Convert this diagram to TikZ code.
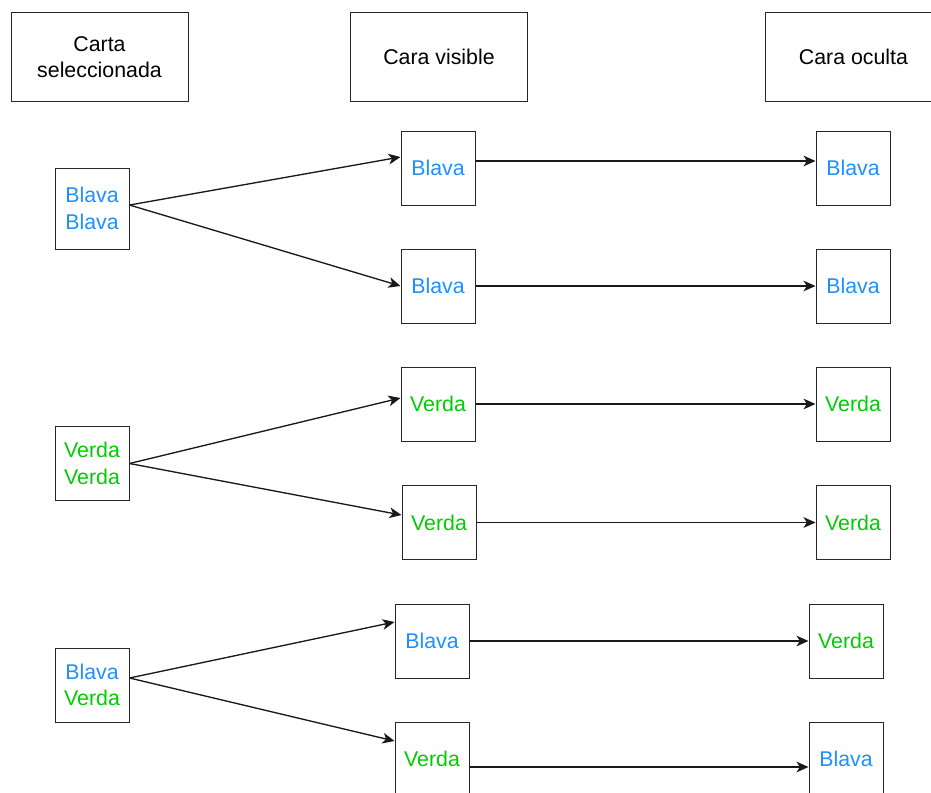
\documentclass[tikz,border=0pt]{standalone}
\usepackage{fontspec}
\setmainfont{Liberation Sans}
\usetikzlibrary{arrows.meta}
\definecolor{blava}{RGB}{30,144,255}
\definecolor{verda}{RGB}{0,204,0}
\tikzset{
  titol/.style={draw=black!85, line width=0.75pt, minimum width=132.75pt, minimum height=66pt, inner sep=0pt, align=center, font=\fontsize{16}{20}\selectfont},
  carta/.style={draw=black!85, line width=0.75pt, minimum width=55.5pt, minimum height=55.5pt, inner sep=0pt, align=center, font=\fontsize{16}{20}\selectfont},
  fletxa/.style={draw=black!90, line width=1pt, -{Stealth[length=9pt, width=8pt, inset=2.5pt]}}
}
\begin{document}
\begin{tikzpicture}[x=0.75pt,y=0.75pt,yscale=-1,xscale=1]
\useasboundingbox (0,0) rectangle (931,792);
\clip (0,0) rectangle (931,792);

% Capcaleres
\node [titol] (hsel) at (99.5,57) {Carta\\seleccionada};
\node [titol] (hvis) at (439,57) {Cara visible};
\node [titol] (hocu) at (853.5,57) {Cara oculta};

% Carta seleccionada
\node [carta, minimum height=60.75pt] (sel1) at (92,208.5) {\color{blava}Blava\\\color{blava}Blava};
\node [carta] (sel2) at (92,463.5) {\color{verda}Verda\\\color{verda}Verda};
\node [carta] (sel3) at (92,685) {\color{blava}Blava\\\color{verda}Verda};

% Cara visible
\node [carta, text=blava] (vis1) at (438,168) {Blava};
\node [carta, text=blava] (vis2) at (438,286) {Blava};
\node [carta, text=verda] (vis3) at (438,404) {Verda};
\node [carta, text=verda] (vis4) at (439,522.5) {Verda};
\node [carta, text=blava] (vis5) at (432,641) {Blava};
\node [carta, text=verda] (vis6) at (432,759) {Verda};

% Cara oculta
\node [carta, text=blava] (ocu1) at (853,168) {Blava};
\node [carta, text=blava] (ocu2) at (853,286) {Blava};
\node [carta, text=verda] (ocu3) at (853,404) {Verda};
\node [carta, text=verda] (ocu4) at (853,522.5) {Verda};
\node [carta, text=verda] (ocu5) at (846,641) {Verda};
\node [carta, text=blava] (ocu6) at (846,759) {Blava};

% Fletxes
\draw [fletxa] ([yshift=-2.6pt]sel1.east) -- ([yshift=-8.25pt]vis1.west);
\draw [fletxa] ([yshift=-2.6pt]sel1.east) -- (vis2.west);
\draw [fletxa] (sel2.east) -- ([yshift=-4.5pt]vis3.west);
\draw [fletxa] (sel2.east) -- ([yshift=-5.6pt]vis4.west);
\draw [fletxa] ([yshift=-5.25pt]sel3.east) -- ([yshift=-14.25pt]vis5.west);
\draw [fletxa] ([yshift=-5.25pt]sel3.east) -- ([yshift=-13.5pt]vis6.west);

\draw [fletxa] ([yshift=-5.25pt]vis1.east) -- ([yshift=-5.25pt]ocu1.west);
\draw [fletxa] (vis2.east) -- (ocu2.west);
\draw [fletxa] (vis3.east) -- (ocu3.west);
\draw [fletxa] (vis4.east) -- (ocu4.west);
\draw [fletxa] (vis5.east) -- (ocu5.west);
\draw [fletxa] ([yshift=6pt]vis6.east) -- ([yshift=6pt]ocu6.west);

\end{tikzpicture}
\end{document}
